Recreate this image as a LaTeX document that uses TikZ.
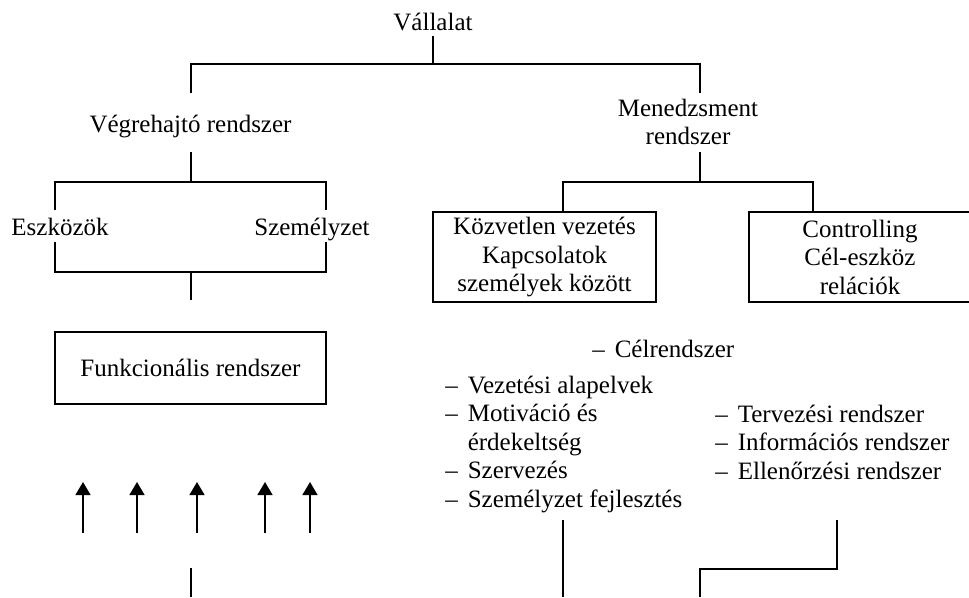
\documentclass[tikz,border=0pt]{standalone}
\usepackage{fontspec}
\setmainfont{Liberation Serif}
\usetikzlibrary{arrows.meta}

\begin{document}
\begin{tikzpicture}[
  x=0.75pt, y=-0.75pt,
  every node/.style={font=\fontsize{18.75pt}{21.4pt}\selectfont, inner sep=0pt},
  label/.style={anchor=base},
  framed/.style={draw, line width=1.5pt, align=center,
                 minimum width=167.25pt, minimum height=67.5pt},
  conn/.style={line width=1.5pt},
  uparrow/.style={line width=1pt, -{Triangle[length=9.75pt, width=11.25pt]}}
]
\useasboundingbox (0,0) rectangle (969,597);
\clip (0,0) rectangle (969,597);

% ---- top level ----
\node[label] (vall) at (433,30) {Vállalat};
\coordinate (top)  at (433,64);
\coordinate (topL) at (191,64);
\coordinate (topR) at (700,64);
\draw[conn] (vall.south) ++(0,5) -- (top);
\draw[conn] (191,93) -- (topL) -- (topR) -- (700,93);

% ---- executive branch ----
\node[label] (vegr) at (190.5,132) {Végrehajtó rendszer};
\coordinate (e0)  at (191,182);
\coordinate (eL)  at (55,182);
\coordinate (eR)  at (326,182);
\draw[conn] (191,152) -- (e0);
\draw[conn] (55,210) -- (eL) -- (eR) -- (326,210);

\node[label] (eszk) at (60,235)  {Eszközök};
\node[label] (szem) at (312,235) {Személyzet};

\coordinate (fL) at (55,272);
\coordinate (fR) at (326,272);
\coordinate (f0) at (191,272);
\draw[conn] (55,242) -- (fL) -- (fR) -- (326,242);

\node[framed, minimum width=203.25pt, minimum height=54pt]
  (funk) at (190.5,368) {Funkcionális rendszer};
\draw[conn] (f0) -- (191,300);

\foreach \x in {83,137,197,265,310}
  \draw[uparrow] (\x,533) -- (\x,482);

\coordinate (fb) at (191,597);
\draw[conn] (191,568) -- (fb);

% ---- management branch ----
\node[align=center] (mened) at (688,122) {Menedzsment\\rendszer};
\coordinate (m0) at (700,182);
\coordinate (mL) at (563,182);
\coordinate (mR) at (813,182);
\draw[conn] (700,152) -- (m0);

\node[framed] (koz)   at (544.5,257) {Közvetlen vezetés\\Kapcsolatok\\személyek között};
\node[framed] (contr) at (860,257)   {Controlling\\Cél-eszköz\\relációk};
\draw[conn] (koz.north -| mL) -- (mL) -- (mR) -- (contr.north -| mR);

\node[anchor=base west] (celr) at (592,357) {\textendash\hspace{7.5pt}Célrendszer};

\node[anchor=base west] (listL) at (445,393) {%
  \begin{tabular}[t]{@{}l@{\hspace{7.5pt}}l@{}}
  \textendash & Vezetési alapelvek\\
  \textendash & Motiváció és\\
              & érdekeltség\\
  \textendash & Szervezés\\
  \textendash & Személyzet fejlesztés
  \end{tabular}};

\node[anchor=base west] (listR) at (715,422) {%
  \begin{tabular}[t]{@{}l@{\hspace{7.5pt}}l@{}}
  \textendash & Tervezési rendszer\\
  \textendash & Információs rendszer\\
  \textendash & Ellenőrzési rendszer
  \end{tabular}};

\coordinate (lb)  at (563,597);
\coordinate (rb1) at (837,569);
\coordinate (rb2) at (700,569);
\coordinate (rb)  at (700,597);
\draw[conn] (563,520) -- (lb);
\draw[conn] (837,520) -- (rb1) -- (rb2) -- (rb);
\end{tikzpicture}
\end{document}
